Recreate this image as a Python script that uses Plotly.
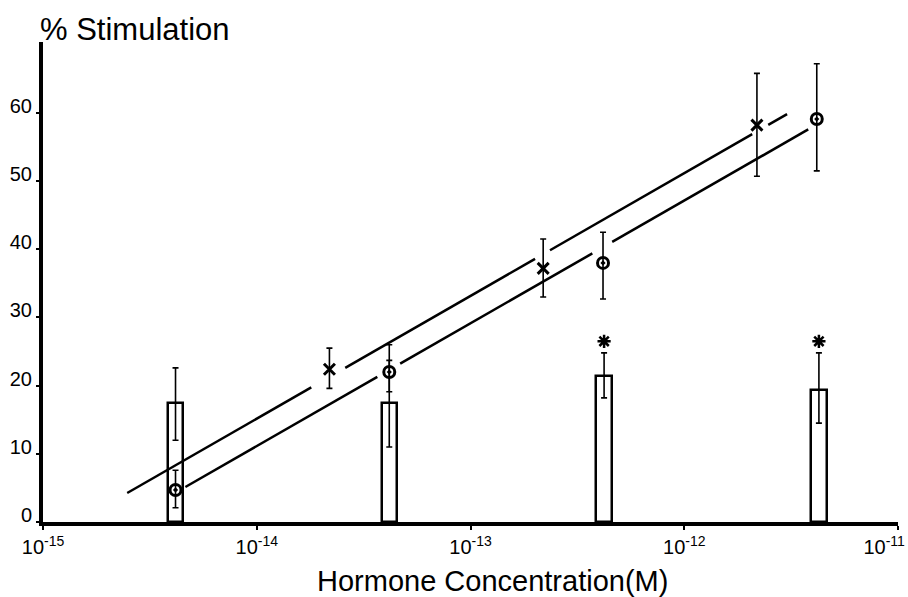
import plotly.graph_objects as go

# ---------------- data (x values are log10 of molar concentration) ----------------
circle_logc = [-14.38, -13.38, -12.38, -11.38]
circle_stim = [4.7, 22.0, 38.0, 59.1]
circle_err_up = [2.9, 4.0, 4.5, 8.1]
circle_err_dn = [2.6, 2.9, 5.3, 7.6]

cross_logc = [-13.66, -12.66, -11.66]
cross_stim = [22.4, 37.2, 58.2]
cross_err_up = [3.1, 4.3, 7.6]
cross_err_dn = [2.8, 4.2, 7.5]

bar_logc = [-14.38, -13.38, -12.375, -11.37]
bar_stim = [17.4, 17.4, 21.4, 19.4]
bar_err_up = [5.2, 6.3, 3.4, 5.4]
bar_err_dn = [5.4, 6.4, 3.2, 4.9]

signif_logc = [-12.375, -11.37]
signif_y = [26.5, 26.5]

# regression lines: value at 1e-13 M and slope per decade
fit_slope = 18.0
cross_fit_at_m13 = 33.16
circle_fit_at_m13 = 29.14
cross_fit_span = (-14.606, -11.519)
circle_fit_span = (-14.334, -11.420)
cross_fit_gaps = [(-13.745, -13.586), (-12.698, -12.628), (-11.682, -11.607)]
circle_fit_gaps = [(-13.436, -13.329), (-12.430, -12.337)]

x_tick_vals = [-15, -14, -13, -12, -11]
x_tick_text = ["10<sup>-15</sup>", "10<sup>-14</sup>", "10<sup>-13</sup>",
               "10<sup>-12</sup>", "10<sup>-11</sup>&nbsp;&nbsp;&nbsp;&nbsp;&nbsp;"]
y_tick_vals = [0, 10, 20, 30, 40, 50, 60]


def broken_line(span, gaps, at_m13, slope):
    xs, ys = [], []
    pts = [span[0]]
    for lo, hi in gaps:
        pts += [lo, None, hi]
    pts.append(span[1])
    for p in pts:
        xs.append(p)
        ys.append(None if p is None else at_m13 + slope * (p + 13))
    return xs, ys


FONT = "Liberation Sans, Arial, sans-serif"

fig = go.Figure()

fig.add_trace(go.Bar(
    x=bar_logc, y=bar_stim, width=0.072,
    marker=dict(color="white", line=dict(color="black", width=2.5)),
    error_y=dict(type="data", symmetric=False, array=bar_err_up, arrayminus=bar_err_dn,
                 color="black", thickness=1.6, width=3),
    showlegend=False,
))

cx, cy = broken_line(cross_fit_span, cross_fit_gaps, cross_fit_at_m13, fit_slope)
fig.add_trace(go.Scatter(x=cx, y=cy, mode="lines", line=dict(color="black", width=2.5),
                         showlegend=False))
ox, oy = broken_line(circle_fit_span, circle_fit_gaps, circle_fit_at_m13, fit_slope)
fig.add_trace(go.Scatter(x=ox, y=oy, mode="lines", line=dict(color="black", width=2.5),
                         showlegend=False))

fig.add_trace(go.Scatter(
    x=circle_logc, y=circle_stim, mode="markers",
    marker=dict(symbol="circle-open-dot", size=11, color="black", line=dict(width=3, color="black")),
    error_y=dict(type="data", symmetric=False, array=circle_err_up, arrayminus=circle_err_dn,
                 color="black", thickness=1.6, width=3),
    showlegend=False,
))
fig.add_trace(go.Scatter(
    x=cross_logc, y=cross_stim, mode="markers",
    marker=dict(symbol="x-thin-open", size=11, color="black", line=dict(width=3, color="black")),
    error_y=dict(type="data", symmetric=False, array=cross_err_up, arrayminus=cross_err_dn,
                 color="black", thickness=1.6, width=3),
    showlegend=False,
))
fig.add_trace(go.Scatter(
    x=signif_logc, y=signif_y, mode="markers",
    marker=dict(symbol="asterisk-open", size=11, color="black", line=dict(width=2.5, color="black")),
    showlegend=False,
))

fig.update_layout(
    width=908, height=597,
    margin=dict(l=43, r=10, t=42, b=75),
    paper_bgcolor="white", plot_bgcolor="white",
    font=dict(family=FONT, color="black"),
    bargap=0,
    xaxis=dict(range=[-15, -11], tickvals=x_tick_vals, ticktext=x_tick_text,
               automargin=False, ticklabeloverflow="allow",
               showgrid=False, zeroline=False, showline=True, linecolor="black", linewidth=4,
               ticks="outside", ticklen=4, tickwidth=2, tickcolor="black",
               tickfont=dict(size=20, family=FONT)),
    yaxis=dict(range=[0, 70.4], tickvals=y_tick_vals, automargin=False,
               showgrid=False, zeroline=False, showline=True, linecolor="black", linewidth=4,
               ticks="outside", ticklen=3, tickwidth=2, tickcolor="black",
               ticklabelshift=-7, ticklabelstandoff=0,
               tickfont=dict(size=20, family=FONT)),
    annotations=[
        dict(text="% Stimulation", xref="paper", yref="paper", x=-0.006, y=1.027,
             xanchor="left", yanchor="middle", showarrow=False,
             font=dict(size=31, family=FONT)),
        dict(text="Hormone Concentration(M)", xref="paper", yref="paper", x=0.526, y=-0.122,
             xanchor="center", yanchor="middle", showarrow=False,
             font=dict(size=29, family=FONT)),
    ],
)

fig.write_html("out.html", config={"displayModeBar": False},
               post_script="document.body.style.margin='0';document.body.style.overflow='hidden';")
